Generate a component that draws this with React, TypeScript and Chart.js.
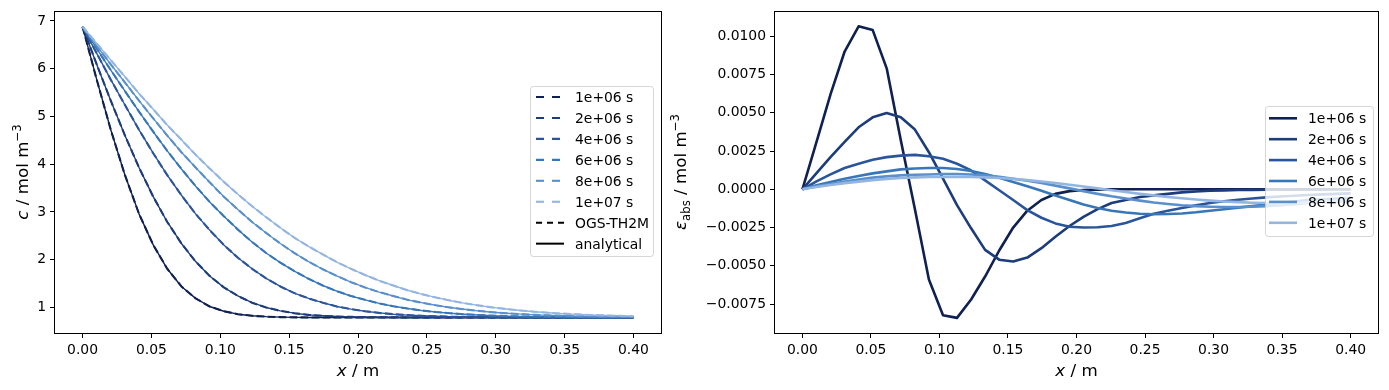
import React, { useEffect, useRef } from 'react';
import { Chart, registerables } from 'chart.js';

Chart.register(...registerables);

// ---------------- data ----------------
const xPositions = [
  0, 0.0103, 0.0205, 0.0308, 0.041, 0.0513, 0.0615, 0.0718, 0.0821, 0.0923,
  0.1026, 0.1128, 0.1231, 0.1333, 0.1436, 0.1538, 0.1641, 0.1744, 0.1846, 0.1949,
  0.2051, 0.2154, 0.2256, 0.2359, 0.2462, 0.2564, 0.2667, 0.2769, 0.2872, 0.2974,
  0.3077, 0.3179, 0.3282, 0.3385, 0.3487, 0.359, 0.3692, 0.3795, 0.3897, 0.4,
];

const timeLabels = ['1e+06 s', '2e+06 s', '4e+06 s', '6e+06 s', '8e+06 s', '1e+07 s'];
const seriesColors = ['#0f2150', '#1c3c7a', '#2a559a', '#3777b8', '#5990cc', '#93b5e1'];

const conc1e6 = [
  6.88, 5.77, 4.72, 3.77, 2.96, 2.31, 1.81, 1.44, 1.19, 1.02,
  0.92, 0.859, 0.825, 0.807, 0.798, 0.793, 0.791, 0.79, 0.79, 0.79,
  0.79, 0.79, 0.79, 0.79, 0.79, 0.79, 0.79, 0.79, 0.79, 0.79,
  0.79, 0.79, 0.79, 0.79, 0.79, 0.79, 0.79, 0.79, 0.79, 0.79,
];
const conc2e6 = [
  6.88, 6.09, 5.33, 4.6, 3.93, 3.32, 2.79, 2.34, 1.96, 1.66,
  1.42, 1.24, 1.1, 1.0, 0.928, 0.88, 0.845, 0.825, 0.811, 0.802,
  0.797, 0.794, 0.792, 0.791, 0.79, 0.79, 0.79, 0.79, 0.79, 0.79,
  0.79, 0.79, 0.79, 0.79, 0.79, 0.79, 0.79, 0.79, 0.79, 0.79,
];
const conc4e6 = [
  6.88, 6.32, 5.77, 5.24, 4.72, 4.23, 3.77, 3.35, 2.96, 2.62,
  2.31, 2.04, 1.81, 1.61, 1.44, 1.3, 1.19, 1.1, 1.02, 0.965,
  0.92, 0.886, 0.859, 0.839, 0.825, 0.815, 0.807, 0.802, 0.798, 0.795,
  0.793, 0.792, 0.791, 0.79, 0.79, 0.79, 0.79, 0.79, 0.79, 0.79,
];
const conc6e6 = [
  6.88, 6.42, 5.97, 5.53, 5.1, 4.68, 4.28, 3.9, 3.54, 3.21,
  2.91, 2.63, 2.37, 2.14, 1.94, 1.76, 1.6, 1.46, 1.34, 1.24,
  1.16, 1.085, 1.026, 0.977, 0.937, 0.904, 0.879, 0.858, 0.842, 0.829,
  0.819, 0.812, 0.806, 0.802, 0.799, 0.796, 0.794, 0.793, 0.792, 0.792,
];
const conc8e6 = [
  6.88, 6.48, 6.09, 5.71, 5.33, 4.96, 4.6, 4.25, 3.93, 3.62,
  3.32, 3.05, 2.79, 2.56, 2.34, 2.14, 1.96, 1.8, 1.66, 1.53,
  1.42, 1.32, 1.24, 1.16, 1.1, 1.045, 1.0, 0.961, 0.928, 0.901,
  0.88, 0.861, 0.845, 0.834, 0.825, 0.817, 0.811, 0.806, 0.802, 0.799,
];
const conc1e7 = [
  6.88, 6.53, 6.18, 5.83, 5.48, 5.15, 4.82, 4.51, 4.2, 3.91,
  3.63, 3.37, 3.12, 2.89, 2.67, 2.46, 2.28, 2.11, 1.95, 1.81,
  1.68, 1.56, 1.46, 1.36, 1.28, 1.21, 1.146, 1.09, 1.043, 1.001,
  0.967, 0.937, 0.911, 0.89, 0.871, 0.856, 0.843, 0.833, 0.825, 0.817,
];

const err1e6 = [
  0, 0.0031, 0.0062, 0.009, 0.01065, 0.0104, 0.0079, 0.0032, -0.0013, -0.0059,
  -0.00823, -0.0084, -0.0072, -0.0057, -0.004, -0.0025, -0.0014, -0.0007, -0.0003, -0.00012,
  -0.00005, -0.00002, 0, 0, 0, 0, 0, 0, 0, 0,
  0, 0, 0, 0, 0, 0, 0, 0, 0, 0,
];
const err2e6 = [
  0, 0.00105, 0.0021, 0.0031, 0.00405, 0.0047, 0.00498, 0.0047, 0.0039, 0.00242,
  0.0007, -0.00104, -0.00255, -0.00396, -0.0046, -0.00472, -0.00446, -0.00385, -0.0031, -0.0024,
  -0.0018, -0.0013, -0.0009, -0.0007, -0.0005, -0.0004, -0.0003, -0.0002, -0.00015, -0.0001,
  -0.00007, -0.00005, -0.00004, -0.00003, -0.00002, -0.00002, -0.00001, -0.00001, 0, 0,
];
const err4e6 = [
  0, 0.00052, 0.00097, 0.00139, 0.00167, 0.00193, 0.0021, 0.0022, 0.00225, 0.00216,
  0.002, 0.00167, 0.00123, 0.00058, -0.00006, -0.0007, -0.00136, -0.00186, -0.00223, -0.00245,
  -0.0025, -0.00248, -0.0024, -0.0022, -0.0019, -0.0016, -0.0014, -0.00122, -0.00105, -0.0009,
  -0.00078, -0.00068, -0.0006, -0.00053, -0.00047, -0.00042, -0.00037, -0.00033, -0.0003, -0.00027,
];
const err6e6 = [
  0, 0.00026, 0.00048, 0.00069, 0.00087, 0.00104, 0.00117, 0.0013, 0.00136, 0.00139,
  0.00139, 0.00132, 0.00119, 0.001, 0.00076, 0.00048, 0.0002, -0.0001, -0.0004, -0.0007,
  -0.001, -0.00122, -0.0014, -0.00152, -0.0016, -0.00163, -0.00162, -0.00158, -0.0015, -0.0014,
  -0.0013, -0.0012, -0.0011, -0.001, -0.0009, -0.0008, -0.0007, -0.00065, -0.0006, -0.00055,
];
const err8e6 = [
  0, 0.0002, 0.00035, 0.0005, 0.00063, 0.00076, 0.00084, 0.00091, 0.00095, 0.00097,
  0.001, 0.001, 0.00097, 0.00091, 0.00082, 0.00069, 0.00056, 0.00041, 0.00024, 0.00006,
  -0.00012, -0.0003, -0.00046, -0.0006, -0.00074, -0.00086, -0.00096, -0.00104, -0.0011, -0.00114,
  -0.00116, -0.00116, -0.00114, -0.0011, -0.00104, -0.00098, -0.0009, -0.00084, -0.00078, -0.00072,
];
const err1e7 = [
  0, 0.00015, 0.00028, 0.0004, 0.0005, 0.0006, 0.00068, 0.00074, 0.00078, 0.0008,
  0.00081, 0.00081, 0.0008, 0.00078, 0.00074, 0.00068, 0.0006, 0.00051, 0.00041, 0.0003,
  0.00018, 0.00006, -0.00006, -0.00018, -0.0003, -0.0004, -0.0005, -0.00059, -0.00067, -0.00074,
  -0.0008, -0.00084, -0.00088, -0.0009, -0.00091, -0.0009, -0.00088, -0.00085, -0.00082, -0.0008,
];

const concSeries = [conc1e6, conc2e6, conc4e6, conc6e6, conc8e6, conc1e7];
const errSeries = [err1e6, err2e6, err4e6, err6e6, err8e6, err1e7];

const xTickValues = [0, 0.05, 0.1, 0.15, 0.2, 0.25, 0.3, 0.35, 0.4];
const xTickLabels = ['0.00', '0.05', '0.10', '0.15', '0.20', '0.25', '0.30', '0.35', '0.40'];
const concTickValues = [1, 2, 3, 4, 5, 6, 7];
const concTickLabels = ['1', '2', '3', '4', '5', '6', '7'];
const errTickValues = [-0.0075, -0.005, -0.0025, 0, 0.0025, 0.005, 0.0075, 0.01];
const errTickLabels = ['\u22120.0075', '\u22120.0050', '\u22120.0025', '0.0000', '0.0025', '0.0050', '0.0075', '0.0100'];

const legendExtraLabels = ['OGS-TH2M', 'analytical'];

// ---------------- helpers ----------------
const FONT = '"DejaVu Sans"';
const TICK_SIZE = 13.9;
const LABEL_SIZE = 16.7;

type Part = { text: string; italic?: boolean; scale?: number; shift?: number };

function drawParts(ctx: CanvasRenderingContext2D, parts: Part[], x: number, y: number, rotate: boolean) {
  ctx.save();
  ctx.fillStyle = '#000';
  ctx.textBaseline = 'alphabetic';
  ctx.textAlign = 'left';
  const fonts = parts.map(p => `${p.italic ? 'italic ' : ''}${(LABEL_SIZE * (p.scale || 1)).toFixed(2)}px ${FONT}`);
  const widths = parts.map((p, i) => {
    ctx.font = fonts[i];
    return ctx.measureText(p.text).width;
  });
  const total = widths.reduce((a, b) => a + b, 0);
  ctx.translate(x, y);
  if (rotate) ctx.rotate(-Math.PI / 2);
  let cx = -total / 2;
  parts.forEach((p, i) => {
    ctx.font = fonts[i];
    ctx.fillText(p.text, cx, p.shift || 0);
    cx += widths[i];
  });
  ctx.restore();
}

type LegendItem = { label: string; color: string; dash: number[]; width: number };
type LegendSpec = {
  box: { x: number; y: number; w: number; h: number };
  handleX0: number;
  handleX1: number;
  textX: number;
  rowY0: number;
  rowStep: number;
  items: LegendItem[];
};

function roundRectPath(ctx: CanvasRenderingContext2D, x: number, y: number, w: number, h: number, r: number) {
  ctx.beginPath();
  ctx.moveTo(x + r, y);
  ctx.lineTo(x + w - r, y);
  ctx.arcTo(x + w, y, x + w, y + r, r);
  ctx.lineTo(x + w, y + h - r);
  ctx.arcTo(x + w, y + h, x + w - r, y + h, r);
  ctx.lineTo(x + r, y + h);
  ctx.arcTo(x, y + h, x, y + h - r, r);
  ctx.lineTo(x, y + r);
  ctx.arcTo(x, y, x + r, y, r);
  ctx.closePath();
}

function drawLegend(ctx: CanvasRenderingContext2D, spec: LegendSpec) {
  ctx.save();
  const { box } = spec;
  roundRectPath(ctx, box.x, box.y, box.w, box.h, 3);
  ctx.fillStyle = 'rgba(255,255,255,0.8)';
  ctx.fill();
  ctx.strokeStyle = 'rgba(204,204,204,0.8)';
  ctx.lineWidth = 1;
  ctx.stroke();
  spec.items.forEach((it, i) => {
    const y = spec.rowY0 + i * spec.rowStep;
    ctx.beginPath();
    ctx.setLineDash(it.dash);
    ctx.lineDashOffset = 0;
    ctx.lineCap = 'butt';
    ctx.strokeStyle = it.color;
    ctx.lineWidth = it.width;
    ctx.moveTo(spec.handleX0, y);
    ctx.lineTo(spec.handleX1, y);
    ctx.stroke();
    ctx.setLineDash([]);
    ctx.fillStyle = '#000';
    ctx.font = `${TICK_SIZE}px ${FONT}`;
    ctx.textBaseline = 'alphabetic';
    ctx.textAlign = 'left';
    ctx.fillText(it.label, spec.textX, y + 5);
  });
  ctx.restore();
}

function makeDecor(opts: {
  xLabel: Part[]; xLabelPos: [number, number];
  yLabel: Part[]; yLabelPos: [number, number];
  legend: LegendSpec;
}) {
  return {
    id: 'decor',
    afterDraw(chart: any) {
      const ctx: CanvasRenderingContext2D = chart.ctx;
      const a = chart.chartArea;
      ctx.save();
      ctx.strokeStyle = '#000';
      ctx.lineWidth = 1;
      ctx.setLineDash([]);
      ctx.strokeRect(Math.round(a.left) - 0.5, Math.round(a.top) - 0.5, Math.round(a.right - a.left) + 1, Math.round(a.bottom - a.top) + 1);
      ctx.restore();
      drawParts(ctx, opts.xLabel, opts.xLabelPos[0], opts.xLabelPos[1], false);
      drawParts(ctx, opts.yLabel, opts.yLabelPos[0], opts.yLabelPos[1], true);
      drawLegend(ctx, opts.legend);
    },
  };
}

function axisOptions(min: number, max: number, values: number[], labels: string[], fitKey: 'width' | 'height', fitSize: number, position: string) {
  return {
    type: 'linear',
    position,
    min,
    max,
    afterBuildTicks: (scale: any) => {
      scale.ticks = values.map(v => ({ value: v }));
    },
    afterFit: (scale: any) => {
      scale[fitKey] = fitSize;
    },
    border: { display: false },
    grid: {
      display: true,
      drawOnChartArea: false,
      drawTicks: true,
      tickLength: 5,
      tickWidth: 1,
      tickColor: '#000',
    },
    ticks: {
      autoSkip: false,
      maxRotation: 0,
      minRotation: 0,
      padding: 4,
      color: '#000',
      font: { family: 'DejaVu Sans', size: TICK_SIZE },
      callback: (value: number) => {
        const idx = values.findIndex(v => Math.abs(v - value) < 1e-9);
        return idx >= 0 ? labels[idx] : '';
      },
    },
  };
}

const dashPattern = [7.7, 3.3];

export default function App() {
  const leftRef = useRef<HTMLCanvasElement>(null);
  const rightRef = useRef<HTMLCanvasElement>(null);

  useEffect(() => {
    const n = timeLabels.length;
    const leftDatasets: any[] = [];
    concSeries.forEach((vals, i) => {
      leftDatasets.push({
        label: timeLabels[i] + ' OGS',
        data: vals.map((v, k) => ({ x: xPositions[k], y: v })),
        borderColor: seriesColors[i],
        borderWidth: 2.1,
        borderDash: dashPattern,
        borderCapStyle: 'butt',
        borderJoinStyle: 'round',
        pointRadius: 0,
        tension: 0,
        fill: false,
        order: 2 * (n - i),
      });
      leftDatasets.push({
        label: timeLabels[i] + ' analytical',
        data: vals.map((v, k) => ({ x: xPositions[k], y: v })),
        borderColor: seriesColors[i],
        borderWidth: 1.4,
        borderCapStyle: 'butt',
        borderJoinStyle: 'round',
        pointRadius: 0,
        tension: 0,
        fill: false,
        order: 2 * (n - i) + 1,
      });
    });

    const rightDatasets = errSeries.map((vals, i) => ({
      label: timeLabels[i],
      data: vals.map((v, k) => ({ x: xPositions[k], y: v })),
      borderColor: seriesColors[i],
      borderWidth: 2.6,
      borderCapStyle: 'butt',
      borderJoinStyle: 'round',
      pointRadius: 0,
      tension: 0,
      fill: false,
      order: n - i,
    }));

    const leftLegend: LegendSpec = {
      box: { x: 530.5, y: 86.5, w: 123, h: 170 },
      handleX0: 536,
      handleX1: 564,
      textX: 575,
      rowY0: 97,
      rowStep: 20.95,
      items: [
        ...timeLabels.map((l, i) => ({ label: l, color: seriesColors[i], dash: [8, 8], width: 2.1 })),
        { label: legendExtraLabels[0], color: '#000', dash: [6, 5], width: 2 },
        { label: legendExtraLabels[1], color: '#000', dash: [], width: 2 },
      ],
    };
    const rightLegend: LegendSpec = {
      box: { x: 1265.5 - 665, y: 106.5, w: 108, h: 130 },
      handleX0: 1269 - 665,
      handleX1: 1297 - 665,
      textX: 1308 - 665,
      rowY0: 118.3,
      rowStep: 20.9,
      items: timeLabels.map((l, i) => ({ label: l, color: seriesColors[i], dash: [], width: 2.6 })),
    };

    const xLabelParts: Part[] = [{ text: 'x', italic: true }, { text: ' / m' }];

    const leftChart = new Chart(leftRef.current as HTMLCanvasElement, {
      type: 'line',
      data: { datasets: leftDatasets },
      options: {
        responsive: false,
        animation: false,
        devicePixelRatio: 1,
        layout: { padding: { left: 0, top: 11, right: 4, bottom: 0 } },
        plugins: { legend: { display: false }, tooltip: { enabled: false } },
        scales: {
          x: axisOptions(-0.02, 0.42, xTickValues, xTickLabels, 'height', 57, 'bottom') as any,
          y: axisOptions(0.465, 7.18, concTickValues, concTickLabels, 'width', 55, 'left') as any,
        },
      },
      plugins: [
        makeDecor({
          xLabel: xLabelParts,
          xLabelPos: [358, 376],
          yLabel: [{ text: 'c', italic: true }, { text: ' / mol m' }, { text: '\u22123', scale: 0.7, shift: -7 }],
          yLabelPos: [28, 172],
          legend: leftLegend,
        }) as any,
      ],
    });

    const rightChart = new Chart(rightRef.current as HTMLCanvasElement, {
      type: 'line',
      data: { datasets: rightDatasets },
      options: {
        responsive: false,
        animation: false,
        devicePixelRatio: 1,
        layout: { padding: { left: 0, top: 11, right: 11, bottom: 0 } },
        plugins: { legend: { display: false }, tooltip: { enabled: false } },
        scales: {
          x: axisOptions(-0.02, 0.42, xTickValues, xTickLabels, 'height', 57, 'bottom') as any,
          y: axisOptions(-0.00939, 0.01156, errTickValues, errTickLabels, 'width', 110, 'left') as any,
        },
      },
      plugins: [
        makeDecor({
          xLabel: xLabelParts,
          xLabelPos: [1076.5 - 665, 376],
          yLabel: [
            { text: '\u03b5', italic: true },
            { text: 'abs', scale: 0.7, shift: 3.5 },
            { text: ' / mol m' },
            { text: '\u22123', scale: 0.7, shift: -7 },
          ],
          yLabelPos: [686 - 665, 172],
          legend: rightLegend,
        }) as any,
      ],
    });

    return () => {
      leftChart.destroy();
      rightChart.destroy();
    };
  }, []);

  return (
    <div style={{ position: 'fixed', left: 0, top: 0, width: 1389, height: 390, background: '#fff' }}>
      <canvas
        ref={leftRef}
        width={665}
        height={390}
        style={{ position: 'absolute', left: 0, top: 0, width: 665, height: 390 }}
      />
      <canvas
        ref={rightRef}
        width={724}
        height={390}
        style={{ position: 'absolute', left: 665, top: 0, width: 724, height: 390 }}
      />
    </div>
  );
}
